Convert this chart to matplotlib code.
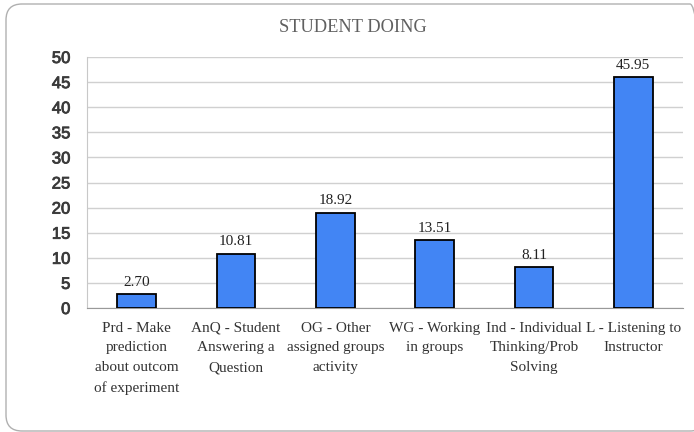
import matplotlib
matplotlib.use("Agg")
import matplotlib.pyplot as plt
import matplotlib.patheffects as pe
from matplotlib.patches import FancyBboxPatch
from matplotlib.transforms import IdentityTransform

categories = [
    "Prd - Make\nprediction\nabout outcom\nof experiment",
    "AnQ - Student\nAnswering a\nQuestion",
    "OG - Other\nassigned groups\nactivity",
    "WG - Working\nin groups",
    "Ind - Individual\nThinking/Prob\nSolving",
    "L - Listening to\nInstructor",
]
values = [2.70, 10.81, 18.92, 13.51, 8.11, 45.95]
yticks = [0, 5, 10, 15, 20, 25, 30, 35, 40, 45, 50]
title = "STUDENT DOING"

fig = plt.figure(figsize=(6.94, 4.32), dpi=100)
W, H = 694, 432

# rounded outer border (pixel coordinates)
border = FancyBboxPatch((6, 1), 700, 427,
                        boxstyle="round,pad=0,rounding_size=16",
                        transform=IdentityTransform(), fill=False,
                        edgecolor="#b0b0b0", linewidth=1.0, clip_on=False)
fig.patches.append(border)

ax = fig.add_axes([87 / W, 1 - 308 / H, (683 - 87) / W, (308 - 57) / H])
x = list(range(len(values)))
ax.bar(x, values, width=0.39, color="#4285F4", edgecolor="black", linewidth=1.3, zorder=3)
ax.set_xlim(-0.5, len(values) - 0.5)
ax.set_ylim(0, 50)
ax.set_yticks(yticks)
ylabels = ax.set_yticklabels([str(v) for v in yticks], fontfamily="Liberation Sans",
                             fontsize=12, color="#3a3a3a")
for t in ylabels:
    t.set_path_effects([pe.withStroke(linewidth=0.6, foreground="#3a3a3a")])
ax.yaxis.grid(True, color="#d0d0d0", linewidth=1.0, zorder=0)
ax.tick_params(axis="y", length=0, pad=12)
ax.tick_params(axis="x", length=0, pad=10)
ax.set_xticks(x)
ax.set_xticklabels(categories, fontfamily="Liberation Serif", fontsize=11,
                   color="#333333", linespacing=1.66)
for s in ["top", "right"]:
    ax.spines[s].set_visible(False)
ax.spines["left"].set_color("#c8c8c8")
ax.spines["bottom"].set_color("#999999")

for xi, v in zip(x, values):
    ax.annotate(f"{v:.2f}", (xi, v), xytext=(0, 4), textcoords="offset points",
                ha="center", va="bottom", fontfamily="Liberation Serif",
                fontsize=11, color="#222222")

fig.text(353 / W, 1 - 27 / H, title, ha="center", va="center",
         fontfamily="Liberation Serif", fontsize=13.2, color="#606060")

fig.savefig("out.png", dpi=100)
